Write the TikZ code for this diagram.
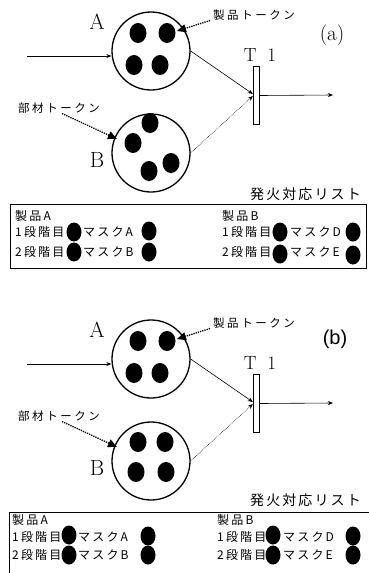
\documentclass[tikz,border=0pt]{standalone}
\usepackage{fontspec}
\usetikzlibrary{shapes.geometric,arrows.meta}
\newfontfamily\jpgothic[LetterSpace=18]{Noto Sans CJK JP}
\newfontfamily\jplabel[LetterSpace=22]{Noto Sans CJK JP}
\newfontfamily\jplist[LetterSpace=15]{Noto Sans CJK JP}
\setsansfont{Liberation Sans}

% Petri net: places A and B, transition T1 and the token notes
\newcommand\petrinet{%
  \node[place] (pA) at (151,51) {};
  \node[tok] (a1) at (138,33) {};
  \node[tok] (a2) at (167,33) {};
  \node[tok] (a3) at (134,65) {};
  \node[tok] (a4) at (160,65) {};
  \node[big] (lA) at (97,22) {A};
  \node[place] (pB) at (151,153) {};
  \node[big] (lB) at (97,160) {B};
  \node[bartr] (t1) at (256.5,95.5) {};
  \node[font=\fontsize{19}{21}\selectfont,inner sep=0] (lT) at (260,55) {T\hspace{11pt}1};
  \coordinate (in) at (27,56);
  \coordinate (out) at (333,95);
  \draw[arc] (in) -- (in -| pA.west);
  \draw[arc] (pA.east) -- ([yshift=1.5pt]t1.west);
  \draw[arcdot] (pB.east) -- ([yshift=-0.5pt]t1.west);
  \draw[arc] (t1.east) -- (out);
  \node[lbl] (nP) at (213,15) {製品トークン};
  \coordinate (nPtip) at (177,31);
  \draw[note] ([xshift=-3pt]nP.south west) -- (nPtip);
  \node[lbl] (nM) at (18,108) {部材トークン};
  \coordinate (nMtip) at (117,139);
  \draw[note] ([xshift=44pt]nM.south west) -- (nMtip);
}

\begin{document}
\begin{tikzpicture}[x=1pt,y=-1pt,
  place/.style={circle,draw,line width=1.3pt,minimum size=78pt,inner sep=0},
  tok/.style={ellipse,fill=black,minimum width=17pt,minimum height=20pt,inner sep=0},
  dot/.style={ellipse,fill=black,minimum width=15pt,minimum height=19pt,inner sep=0},
  bartr/.style={rectangle,draw,fill=white,line width=0.8pt,minimum width=6.5pt,minimum height=58pt,inner sep=0},
  arc/.style={line width=0.6pt,-{Stealth[length=5pt,width=4pt]}},
  arcdot/.style={arc,densely dotted},
  note/.style={line width=1.3pt,densely dotted,-{Triangle[length=9pt,width=8pt]}},
  big/.style={font=\fontsize{22}{24}\selectfont,inner sep=0},
  lbl/.style={font=\jplabel\fontsize{11.5}{13}\selectfont,inner sep=0,anchor=west},
  listlbl/.style={font=\jplist\fontsize{14}{16}\selectfont,inner sep=0,anchor=west},
  cell/.style={font=\jpgothic\fontsize{12}{14}\selectfont,inner sep=0,anchor=west},
  frame/.style={draw,line width=0.8pt,inner sep=0}
]
\useasboundingbox (0,0) rectangle (369,573);
\clip (0,0) rectangle (369,573);

% ---------- (a) ----------
\begin{scope}[name prefix=a-]
  \petrinet
  \node[tok] (b1) at (150,123) {};
  \node[tok] (b2) at (133,143) {};
  \node[tok] (b3) at (171,163) {};
  \node[tok] (b4) at (149,171) {};
  \node[font=\fontsize{21}{23}\selectfont,inner sep=0] (tag) at (332,35) {(a)};
  \node[listlbl] (list) at (250,194) {発火対応リスト};
  \node[frame,minimum width=356pt,minimum height=64pt] (box) at (188,236) {};
  \node[cell] (hA) at (15,216) {製品A};
  \node[cell] (r1A) at (15,232) {1段階目};
  \node[dot] (d1A) at (74,232) {};
  \node[cell] (m1A) at (83,232) {マスクA};
  \node[dot] (e1A) at (149,231) {};
  \node[cell] (r2A) at (15,252) {2段階目};
  \node[dot] (d2A) at (74,252) {};
  \node[cell] (m2A) at (83,252) {マスクB};
  \node[dot] (e2A) at (149,252) {};
  \node[cell] (hB) at (222,216) {製品B};
  \node[cell] (r1B) at (222,232) {1段階目};
  \node[dot] (d1B) at (280,232) {};
  \node[cell] (m1B) at (290,232) {マスクD};
  \node[dot] (e1B) at (353,232) {};
  \node[cell] (r2B) at (222,252) {2段階目};
  \node[dot] (d2B) at (280,254) {};
  \node[cell] (m2B) at (290,252) {マスクE};
  \node[dot] (e2B) at (353,255) {};
\end{scope}

% ---------- (b) ----------
\begin{scope}[name prefix=b-,yshift=-308pt]
  \petrinet
  \node[tok] (b1) at (138,134) {};
  \node[tok] (b2) at (165,134) {};
  \node[tok] (b3) at (136,164) {};
  \node[tok] (b4) at (166,164) {};
  \node[font=\sffamily\fontsize{20}{22}\selectfont,inner sep=0] (tag) at (335,31) {(b)};
\end{scope}
\begin{scope}[name prefix=b-]
  \node[listlbl] (list) at (250,500) {発火対応リスト};
  \node[frame,anchor=north west,minimum width=372pt,minimum height=80pt] (box) at (9,512) {};
  \node[cell] (hA) at (12,520) {製品A};
  \node[cell] (r1A) at (12,537) {1段階目};
  \node[dot] (d1A) at (69,535) {};
  \node[cell] (m1A) at (78,537) {マスクA};
  \node[dot] (e1A) at (148,536) {};
  \node[cell] (r2A) at (12,555) {2段階目};
  \node[dot] (d2A) at (69,555) {};
  \node[cell] (m2A) at (78,555) {マスクB};
  \node[dot] (e2A) at (148,555) {};
  \node[cell] (hB) at (217,520) {製品B};
  \node[cell] (r1B) at (217,537) {1段階目};
  \node[dot] (d1B) at (273,535) {};
  \node[cell] (m1B) at (283,537) {マスクD};
  \node[dot] (e1B) at (353,536) {};
  \node[cell] (r2B) at (217,555) {2段階目};
  \node[dot] (d2B) at (273,555) {};
  \node[cell] (m2B) at (283,555) {マスクE};
  \node[dot] (e2B) at (353,555) {};
\end{scope}
\end{tikzpicture}
\end{document}
